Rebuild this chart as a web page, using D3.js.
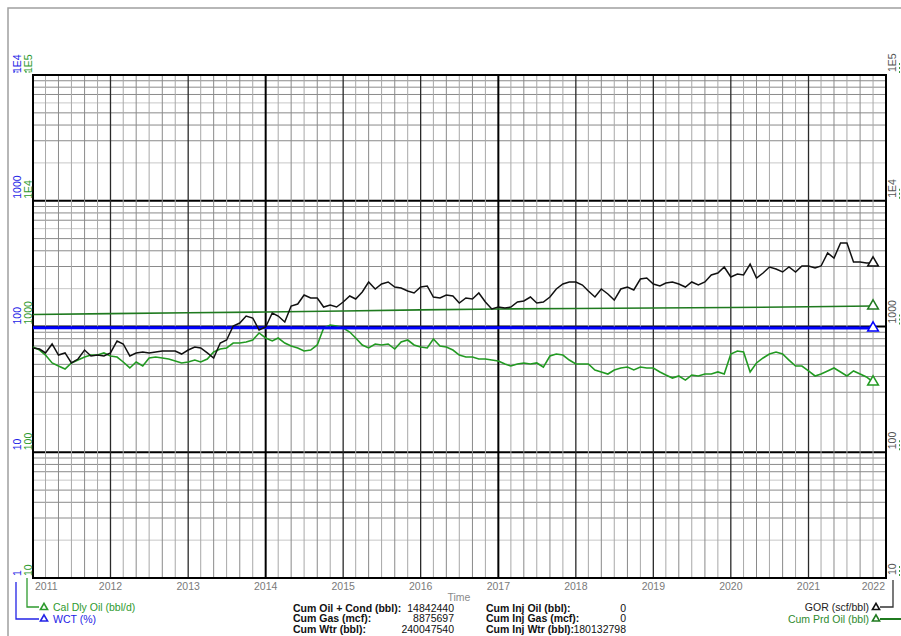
<!DOCTYPE html>
<html lang="en">
<head>
    <meta charset="UTF-8">
    <title>Well Production Plot</title>
    <script src="https://d3js.org/d3.v7.min.js"></script>
    <style>
        body { margin: 0; background: #fff; }
        text { font-family: "Liberation Sans", Arial, sans-serif; font-size: 10.5px; }
    </style>
</head>
<body>
    <svg id="chart" width="901" height="636"></svg>
    <script>
        // monthly series, first point Jan 2011, last point Nov 2021
        const firstMonth = new Date(2011, 0, 1);

        // GOR (scf/bbl), right axis
        const gorValues = [
            675, 662, 616, 726, 593, 616, 513, 551, 650, 583, 593, 583,
            616, 767, 726, 583, 616, 627, 616, 627, 639, 639, 639, 604,
            650, 687, 675, 616, 562, 739, 781, 1009, 1066, 1212, 1168, 938,
            991, 1281, 1212, 1086, 1455, 1510, 1780, 1685, 1685, 1429, 1483, 1429,
            1566, 1748, 1655, 1881, 2259, 1987, 2178, 2259, 2061, 2024, 1916, 1847,
            2061, 2100, 1716, 1685, 1780, 1748, 1538, 1685, 1655, 1847, 1566, 1378,
            1429, 1403, 1429, 1566, 1595, 1716, 1538, 1566, 1716, 1987, 2178, 2259,
            2259, 2138, 1916, 1716, 1987, 1813, 1624, 1987, 2061, 1951, 2386, 2431,
            2178, 2100, 2218, 2259, 2178, 2061, 2259, 2138, 2259, 2568, 2664, 2973,
            2475, 2616, 2568, 3141, 2431, 2664, 2973, 2866, 2713, 2973, 2713, 3028,
            3028, 2919, 3028, 3841, 3505, 4613, 4613, 3257, 3257, 3198, 3198
        ];

        // Cal Dly Oil (bbl/d), left green axis
        const calDlyOil = [
            687, 650, 593, 513, 485, 459, 513, 541, 572, 593, 593, 616,
            583, 572, 522, 468, 522, 485, 562, 572, 562, 551, 532, 513,
            522, 541, 522, 551, 627, 662, 675, 739, 739, 753, 781, 888,
            810, 767, 810, 739, 700, 675, 639, 650, 713, 973, 1028, 1009,
            973, 904, 810, 713, 675, 726, 713, 726, 662, 753, 781, 713,
            687, 675, 795, 700, 687, 650, 593, 572, 572, 551, 551, 541,
            532, 503, 485, 503, 513, 503, 513, 476, 583, 604, 593, 541,
            503, 503, 503, 451, 435, 419, 451, 468, 476, 451, 476, 468,
            468, 435, 411, 389, 404, 375, 411, 404, 419, 419, 435, 419,
            604, 639, 627, 435, 513, 562, 604, 627, 604, 541, 485, 485,
            443, 404, 419, 443, 468, 435, 404, 443, 419, 397, 362
        ];

        // Cum Prd Oil (bbl), right axis
        const cumPrdDates = ["2011-01", "2012-01", "2013-01", "2014-01", "2015-01", "2016-01",
                             "2017-01", "2018-01", "2019-01", "2020-01", "2021-01", "2021-11"];
        const cumPrdOil = [1246, 1265, 1285, 1304, 1330, 1355, 1378, 1392, 1404, 1416, 1435, 1455];

        // WCT (%), left blue axis
        const wctDates = ["2011-01", "2012-06", "2014-01", "2015-06", "2017-01", "2018-06",
                          "2019-06", "2020-06", "2021-01", "2021-11"];
        const wctValues = [97.6, 97.7, 97.6, 97.5, 97.6, 97.4, 97.3, 97.2, 97.4, 97.3];

        const yearLabels = ["2011", "2012", "2013", "2014", "2015", "2016", "2017", "2018", "2019", "2020", "2021", "2022"];
        const blueTickValues = [1, 10, 100, 1000, 10000];
        const blueTickLabels = ["1", "10", "100", "1000", "1E4"];
        const greenTickValues = [10, 100, 1000, 10000, 100000];
        const greenTickLabels = ["10", "100", "1000", "1E4", "1E5"];

        const statsLeft = [
            ["Cum Oil + Cond (bbl):", "14842440"],
            ["Cum Gas (mcf):", "8875697"],
            ["Cum Wtr (bbl):", "240047540"]
        ];
        const statsRight = [
            ["Cum Inj Oil (bbl):", "0"],
            ["Cum Inj Gas (mcf):", "0"],
            ["Cum Inj Wtr (bbl):", "180132798"]
        ];

        const plot = { left: 33, right: 886, top: 75, bottom: 578 };
        const svg = d3.select('#chart');
        const parseMonth = d3.timeParse('%Y-%m');

        const x = d3.scaleTime()
            .domain([new Date(2011, 0, 1), new Date(2022, 0, 1)])
            .range([plot.left, plot.right]);
        const yBlue = d3.scaleLog().domain([1, 1e4]).range([plot.bottom, plot.top]);
        const yGreen = d3.scaleLog().domain([10, 1e5]).range([plot.bottom, plot.top]);
        const yRight = d3.scaleLog().domain([10, 1e5]).range([plot.bottom, plot.top]);

        const monthDates = gorValues.map((d, i) => d3.timeMonth.offset(firstMonth, i));

        // outer frame
        svg.append('rect')
            .attr('x', 8).attr('y', 8).attr('width', 905).attr('height', 640)
            .attr('fill', 'none').attr('stroke', '#a0a0a0').attr('stroke-width', 1.5);

        const grid = svg.append('g');

        // horizontal log grid
        yBlue.ticks().forEach(v => {
            const lead = v / Math.pow(10, Math.floor(Math.log10(v) + 1e-9));
            const isDecade = Math.abs(lead - 1) < 1e-6;
            const light = Math.abs(lead - 2) < 1e-6 || Math.abs(lead - 6) < 1e-6;
            grid.append('line')
                .attr('x1', plot.left).attr('x2', plot.right)
                .attr('y1', yBlue(v)).attr('y2', yBlue(v))
                .attr('stroke', isDecade ? '#000' : (light ? '#c8c8c8' : '#8a8a8a'))
                .attr('stroke-width', isDecade ? 2 : 1);
        });

        // vertical grid: every two months, heavier on years
        d3.timeMonth.every(2).range(x.domain()[0], x.domain()[1]).forEach(d => {
            if (d.getMonth() === 0) return;
            grid.append('line')
                .attr('x1', x(d)).attr('x2', x(d))
                .attr('y1', plot.top).attr('y2', plot.bottom)
                .attr('stroke', d.getMonth() % 4 === 0 ? '#8a8a8a' : '#a8a8a8')
                .attr('stroke-width', 1);
        });
        d3.timeYear.range(x.domain()[0], x.domain()[1]).forEach(d => {
            const y = d.getFullYear();
            const heavy = y === 2014 || y === 2017;
            grid.append('line')
                .attr('x1', x(d)).attr('x2', x(d))
                .attr('y1', plot.top).attr('y2', plot.bottom)
                .attr('stroke', heavy ? '#000' : '#2a2a2a')
                .attr('stroke-width', heavy ? 2 : 1.3);
        });

        svg.append('rect')
            .attr('x', plot.left).attr('y', plot.top)
            .attr('width', plot.right - plot.left).attr('height', plot.bottom - plot.top)
            .attr('fill', 'none').attr('stroke', '#000').attr('stroke-width', 2);

        // series
        const lines = svg.append('g').attr('fill', 'none');

        lines.append('path')
            .datum(cumPrdOil.map((v, i) => [parseMonth(cumPrdDates[i]), v]))
            .attr('d', d3.line().x(d => x(d[0])).y(d => yRight(d[1])))
            .attr('stroke', '#1f7a1f').attr('stroke-width', 1.6);

        lines.append('path')
            .datum(calDlyOil.map((v, i) => [monthDates[i], v]))
            .attr('d', d3.line().x(d => x(d[0])).y(d => yGreen(d[1])))
            .attr('stroke', '#229a22').attr('stroke-width', 1.6);

        lines.append('path')
            .datum(wctValues.map((v, i) => [parseMonth(wctDates[i]), v]))
            .attr('d', d3.line().x(d => x(d[0])).y(d => yBlue(d[1])))
            .attr('stroke', '#0000ff').attr('stroke-width', 3);

        lines.append('path')
            .datum(gorValues.map((v, i) => [monthDates[i], v]))
            .attr('d', d3.line().x(d => x(d[0])).y(d => yRight(d[1])))
            .attr('stroke', '#111').attr('stroke-width', 1.5);

        // end markers
        const tri = d3.symbol().type(d3.symbolTriangle);
        const lastMonth = monthDates[monthDates.length - 1];
        const endMarks = [
            [lastMonth, yRight(gorValues[gorValues.length - 1]), '#111'],
            [parseMonth(cumPrdDates[cumPrdDates.length - 1]), yRight(cumPrdOil[cumPrdOil.length - 1]), '#1f7a1f'],
            [parseMonth(wctDates[wctDates.length - 1]), yBlue(wctValues[wctValues.length - 1]), '#0000ff'],
            [lastMonth, yGreen(calDlyOil[calDlyOil.length - 1]), '#229a22']
        ];
        endMarks.forEach(m => {
            svg.append('path')
                .attr('d', tri.size(50)())
                .attr('transform', `translate(${x(m[0])},${m[1]})`)
                .attr('fill', '#fff').attr('stroke', m[2]).attr('stroke-width', 1.5);
        });

        // left axis labels (rotated)
        function rotatedLabel(px, py, label, color) {
            svg.append('text')
                .attr('transform', `translate(${px},${py}) rotate(-90)`)
                .attr('text-anchor', 'start')
                .attr('fill', color)
                .text(label);
        }
        blueTickValues.forEach((v, i) => rotatedLabel(21, yBlue(v) - 2, blueTickLabels[i], '#2323e6'));
        greenTickValues.forEach((v, i) => rotatedLabel(32, yGreen(v) - 2, greenTickLabels[i], '#2e9a2e'));
        greenTickValues.forEach((v, i) => {
            rotatedLabel(896, yRight(v) - 3, greenTickLabels[i], '#555');
            svg.append('line')
                .attr('x1', 899.5).attr('x2', 899.5)
                .attr('y1', yRight(v) - 12).attr('y2', yRight(v) - 2)
                .attr('stroke', '#3a9a3a').attr('stroke-dasharray', '2,2');
        });
        // small marks under the top-left labels
        [[13, 20, '#2323e6'], [25, 31, '#2e9a2e']].forEach(m => {
            svg.append('line')
                .attr('x1', m[0]).attr('x2', m[1])
                .attr('y1', plot.top - 3).attr('y2', plot.top - 3)
                .attr('stroke', m[2]).attr('stroke-dasharray', '2,1.5');
        });

        // year labels
        yearLabels.forEach((label, i) => {
            const d = new Date(+label, 0, 1);
            let px = x(d), anchor = 'middle';
            if (i === 0) { px = plot.left + 2; anchor = 'start'; }
            if (i === yearLabels.length - 1) { px = plot.right - 1; anchor = 'end'; }
            svg.append('text')
                .attr('x', px).attr('y', 590)
                .attr('text-anchor', anchor)
                .attr('fill', '#7a7a7a')
                .text(label);
        });
        svg.append('text')
            .attr('x', 459).attr('y', 601)
            .attr('text-anchor', 'middle')
            .attr('fill', '#8a8a8a')
            .text('Time');

        // bottom-left legend
        const legendTri = d3.symbol().type(d3.symbolTriangle).size(22)();
        svg.append('path')
            .attr('d', `M27,${plot.bottom}V607H39`)
            .attr('fill', 'none').attr('stroke', '#2e9a2e').attr('stroke-width', 1.3);
        svg.append('path')
            .attr('d', `M16,${plot.bottom + 4}V619H39`)
            .attr('fill', 'none').attr('stroke', '#2323e6').attr('stroke-width', 1.3);
        svg.append('path').attr('d', legendTri).attr('transform', 'translate(44,607.5)')
            .attr('fill', '#fff').attr('stroke', '#2e9a2e').attr('stroke-width', 1.6);
        svg.append('path').attr('d', legendTri).attr('transform', 'translate(44,619)')
            .attr('fill', '#fff').attr('stroke', '#2323e6').attr('stroke-width', 1.6);
        svg.append('text').attr('x', 53).attr('y', 611).attr('fill', '#2e9a2e').text('Cal Dly Oil (bbl/d)');
        svg.append('text').attr('x', 53).attr('y', 622.5).attr('fill', '#2323e6').text('WCT (%)');

        // bottom-right legend
        svg.append('path')
            .attr('d', `M880,607H893V${plot.bottom + 2}`)
            .attr('fill', 'none').attr('stroke', '#333').attr('stroke-width', 1.3);
        svg.append('path')
            .attr('d', 'M880,619H901')
            .attr('fill', 'none').attr('stroke', '#1f7a1f').attr('stroke-width', 2);
        svg.append('path').attr('d', legendTri).attr('transform', 'translate(876,607.5)')
            .attr('fill', '#fff').attr('stroke', '#111').attr('stroke-width', 1.6);
        svg.append('path').attr('d', legendTri).attr('transform', 'translate(876,619)')
            .attr('fill', '#fff').attr('stroke', '#1f7a1f').attr('stroke-width', 1.6);
        svg.append('text').attr('x', 869).attr('y', 611).attr('text-anchor', 'end')
            .attr('fill', '#222').text('GOR (scf/bbl)');
        svg.append('text').attr('x', 869).attr('y', 622.5).attr('text-anchor', 'end')
            .attr('fill', '#2e8a2e').text('Cum Prd Oil (bbl)');

        // cumulative stats
        function statBlock(rows, labelX, valueX) {
            rows.forEach((r, i) => {
                const by = 611.5 + i * 10.7;
                svg.append('text').attr('x', labelX).attr('y', by)
                    .attr('font-weight', 'bold').attr('fill', '#111').text(r[0]);
                svg.append('text').attr('x', valueX).attr('y', by)
                    .attr('text-anchor', 'end').attr('fill', '#111').text(r[1]);
            });
        }
        statBlock(statsLeft, 293, 454);
        statBlock(statsRight, 486, 626);
    </script>
</body>
</html>
